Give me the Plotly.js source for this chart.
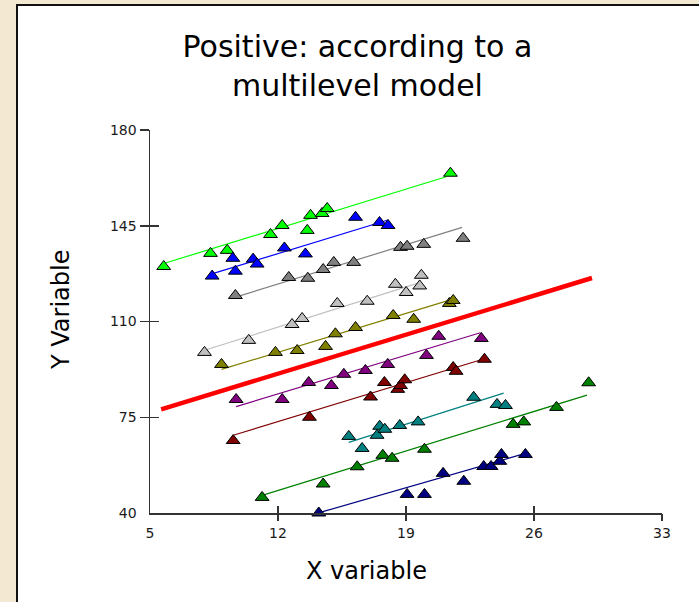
<!DOCTYPE html>
<html><head><meta charset="utf-8">
<script src="https://cdn.plot.ly/plotly-3.0.1.min.js"></script>
<style>
html,body{margin:0;padding:0;width:699px;height:602px;overflow:hidden;background:#f3e8d2;}
#panel{position:absolute;left:16px;top:4px;width:681px;height:596px;background:#fff;border-left:2px solid #111;border-top:2px solid #111;}
#chart{position:absolute;left:0;top:0;width:699px;height:602px;}
</style></head><body>
<div id="panel"></div><div id="chart"></div>
<script>
// ---- data ----
const groupNames  = ['Group 1','Group 2','Group 3','Group 4','Group 5','Group 6','Group 7','Group 8','Group 9','Group 10'];
const groupColors = ['#00ff00','#0000ff','#808080','#c0c0c0','#808000','#800080','#800000','#008080','#008000','#000080'];

const g1X  = [5.75, 8.31, 9.22, 11.59, 12.23, 13.60, 13.78, 14.41, 14.69, 21.43];
const g1Y  = [130.1, 134.9, 136.0, 141.8, 145.1, 143.3, 148.8, 149.5, 151.3, 164.2];
const g2X  = [8.40, 9.53, 9.67, 10.64, 10.86, 12.35, 13.50, 16.24, 17.55, 18.02];
const g2Y  = [126.6, 133.1, 128.4, 132.8, 131.0, 136.9, 134.7, 148.1, 146.2, 145.1];
const g3X  = [9.67, 12.59, 13.63, 14.47, 15.05, 16.14, 18.70, 19.06, 19.97, 22.12];
const g3Y  = [119.5, 126.1, 125.8, 129.0, 131.6, 131.6, 137.1, 137.5, 138.2, 140.4];
const g4X  = [7.98, 10.40, 12.77, 13.32, 15.24, 16.88, 18.42, 19.01, 19.75, 19.84];
const g4Y  = [98.7, 103.1, 108.9, 111.1, 116.6, 117.4, 123.6, 120.6, 123.0, 126.9];
const g5X  = [8.91, 11.86, 13.05, 14.60, 15.14, 16.24, 18.30, 19.42, 21.37, 21.58];
const g5Y  = [94.3, 98.7, 99.4, 100.9, 105.5, 107.8, 112.2, 110.8, 116.6, 117.7];
const g6X  = [9.71, 12.23, 13.68, 14.92, 15.60, 16.78, 18.00, 20.12, 20.79, 23.12];
const g6Y  = [81.5, 81.5, 87.7, 86.6, 90.7, 92.1, 94.3, 97.6, 104.6, 103.8];
const g7X  = [9.55, 13.72, 17.06, 17.82, 18.55, 18.70, 18.93, 21.58, 21.74, 23.29];
const g7Y  = [66.5, 75.0, 82.4, 87.7, 85.2, 86.6, 88.7, 93.2, 91.8, 96.2];
const g8X  = [15.87, 16.60, 17.42, 17.56, 17.84, 18.66, 19.66, 22.70, 23.98, 24.44];
const g8Y  = [68.0, 63.6, 68.4, 71.7, 70.6, 72.0, 73.3, 82.3, 79.7, 79.3];
const g9X  = [11.13, 14.47, 16.33, 17.73, 18.24, 20.01, 24.86, 25.44, 27.23, 28.99];
const g9Y  = [45.7, 50.6, 56.9, 61.1, 60.0, 63.3, 72.4, 73.3, 78.6, 87.6];
const g10X = [14.23, 19.06, 20.01, 21.03, 22.16, 23.25, 23.65, 24.13, 24.22, 25.53];
const g10Y = [40.0, 46.8, 46.8, 54.5, 51.6, 57.0, 57.0, 58.9, 61.4, 61.4];

// fitted group lines (start / end)
const fitStartX = [5.75, 8.47, 9.77, 8.03, 8.91, 9.71, 9.60, 15.87, 11.22, 14.30];
const fitStartY = [131.2, 127.6, 119.1, 99.6, 92.5, 78.9, 68.5, 65.8, 46.6, 40.2];
const fitEndX   = [21.20, 18.02, 22.07, 19.75, 21.43, 23.07, 23.20, 24.34, 28.90, 25.53];
const fitEndY   = [162.9, 147.1, 144.4, 124.2, 117.9, 105.9, 96.2, 83.8, 83.1, 61.8];

// overall (fixed part) line
const meanLineX = [5.61, 29.17];
const meanLineY = [77.9, 125.9];

const xTickVals = [5, 12, 19, 26, 33];
const yTickVals = [40, 75, 110, 145, 180];
const xTickMarks = [12, 19, 26, 33];
const yTickMarks = [75, 110, 145, 180];

const groupX = [g1X, g2X, g3X, g4X, g5X, g6X, g7X, g8X, g9X, g10X];
const groupY = [g1Y, g2Y, g3Y, g4Y, g5Y, g6Y, g7Y, g8Y, g9Y, g10Y];

// ---- traces ----
const traces = [];
groupNames.forEach((n, i) => {
  traces.push({
    type: 'scatter', mode: 'lines', name: n + ' fit', showlegend: false, hoverinfo: 'skip',
    x: [fitStartX[i], fitEndX[i]], y: [fitStartY[i], fitEndY[i]],
    line: {color: groupColors[i], width: 1.2}
  });
});
traces.push({
  type: 'scatter', mode: 'lines', name: 'overall', showlegend: false,
  x: meanLineX, y: meanLineY, line: {color: '#ff0000', width: 4.5}
});
groupNames.forEach((n, i) => {
  traces.push({
    type: 'scatter', mode: 'markers', name: n, showlegend: false, cliponaxis: false,
    x: groupX[i], y: groupY[i],
    marker: {symbol: 'triangle-up', size: 12, color: groupColors[i], line: {color: '#000', width: 1}}
  });
});
// helper traces so the tick-mark overlay axes get drawn
traces.push({type: 'scatter', x: [], y: [], xaxis: 'x2', yaxis: 'y2', showlegend: false, hoverinfo: 'skip'});
traces.push({type: 'scatter', x: [], y: [], xaxis: 'x3', yaxis: 'y3', showlegend: false, hoverinfo: 'skip'});

const tickFont = {family: 'DejaVu Sans', size: 14, color: '#1a1a1a'};
const markAxis = (range, vals, dir, len, extra) => Object.assign({
  range: range, tickvals: vals, ticks: dir, ticklen: len, tickwidth: 1.5, tickcolor: '#333',
  showticklabels: false, showline: false, showgrid: false, zeroline: false, fixedrange: true
}, extra);

const layout = {
  width: 699, height: 602,
  margin: {l: 150, r: 37, t: 130, b: 89},
  paper_bgcolor: 'rgba(0,0,0,0)', plot_bgcolor: 'rgba(0,0,0,0)',
  showlegend: false,
  title: {
    text: 'Positive: according to a<br>multilevel model',
    font: {family: 'DejaVu Sans', size: 30, color: '#000'},
    x: 0.5114, xref: 'container', xanchor: 'center',
    y: 0.905, yref: 'container', yanchor: 'top'
  },
  xaxis: {
    range: [5, 33], tickvals: xTickVals, ticktext: xTickVals.map(String),
    ticks: 'outside', ticklen: 7, tickcolor: 'rgba(0,0,0,0)',
    showline: true, linecolor: '#333', linewidth: 1.5,
    showgrid: false, zeroline: false, tickfont: tickFont, fixedrange: true
  },
  yaxis: {
    range: [40, 180], tickvals: yTickVals, ticktext: yTickVals.map(String),
    ticks: 'outside', ticklen: 9, tickcolor: 'rgba(0,0,0,0)',
    showline: true, linecolor: '#333', linewidth: 1.5,
    showgrid: false, zeroline: false, tickfont: tickFont, fixedrange: true
  },
  xaxis2: markAxis([5, 33], xTickMarks, 'outside', 7, {overlaying: 'x', anchor: 'y2'}),
  yaxis2: markAxis([40, 180], yTickMarks, 'outside', 9, {overlaying: 'y', anchor: 'x2'}),
  xaxis3: markAxis([5, 33], xTickMarks, 'inside', 7, {overlaying: 'x', anchor: 'y3'}),
  yaxis3: markAxis([40, 180], yTickMarks, 'inside', 9, {overlaying: 'y', anchor: 'x3'}),
  annotations: [
    {text: 'X variable', xref: 'paper', yref: 'paper', x: 0.4219, y: -0.1514,
     xanchor: 'center', yanchor: 'middle', showarrow: false,
     font: {family: 'DejaVu Sans', size: 24, color: '#000'}},
    {text: 'Y Variable', xref: 'paper', yref: 'paper', x: -0.1738, y: 0.530, textangle: -90,
     xanchor: 'center', yanchor: 'middle', showarrow: false,
     font: {family: 'DejaVu Sans', size: 24, color: '#000'}}
  ]
};

Plotly.newPlot('chart', traces, layout, {displayModeBar: false, staticPlot: true});
</script></body></html>
